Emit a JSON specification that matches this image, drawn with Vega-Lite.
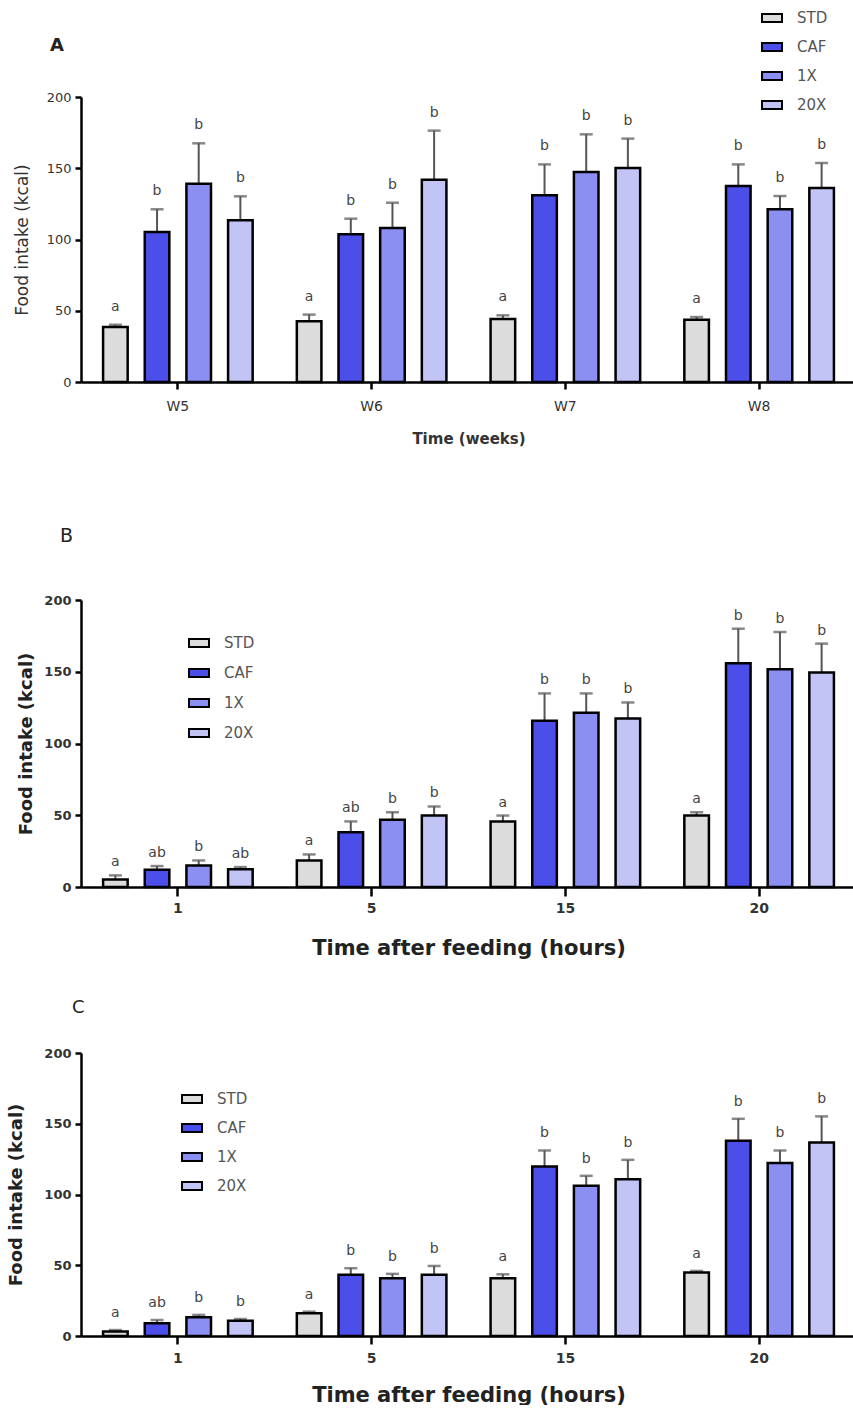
{
  "$schema": "https://vega.github.io/schema/vega-lite/v6.json",
  "background": "white",
  "padding": {"left": 6, "top": 7, "right": 0, "bottom": 0},
  "config": {
    "view": {"stroke": null},
    "font": "DejaVu Sans",
    "axis": {"grid": false, "domainColor": "#000", "tickColor": "#000", "labelFont": "DejaVu Sans", "titleFont": "DejaVu Sans"},
    "legend": {"labelFont": "DejaVu Sans"},
    "title": {"font": "DejaVu Sans"}
  },
  "datasets": {
    "A": [
      {"time": "W5", "diet": "STD", "mean": 38.6, "err": 40.2, "sig": "a"},
      {"time": "W5", "diet": "CAF", "mean": 105.3, "err": 121.2, "sig": "b"},
      {"time": "W5", "diet": "1X", "mean": 139.2, "err": 167.5, "sig": "b"},
      {"time": "W5", "diet": "20X", "mean": 113.5, "err": 130.3, "sig": "b"},
      {"time": "W6", "diet": "STD", "mean": 42.6, "err": 47.3, "sig": "a"},
      {"time": "W6", "diet": "CAF", "mean": 103.6, "err": 114.6, "sig": "b"},
      {"time": "W6", "diet": "1X", "mean": 108.1, "err": 125.8, "sig": "b"},
      {"time": "W6", "diet": "20X", "mean": 142.0, "err": 176.4, "sig": "b"},
      {"time": "W7", "diet": "STD", "mean": 44.2, "err": 46.8, "sig": "a"},
      {"time": "W7", "diet": "CAF", "mean": 131.0, "err": 152.7, "sig": "b"},
      {"time": "W7", "diet": "1X", "mean": 147.4, "err": 173.8, "sig": "b"},
      {"time": "W7", "diet": "20X", "mean": 150.2, "err": 170.8, "sig": "b"},
      {"time": "W8", "diet": "STD", "mean": 43.7, "err": 45.6, "sig": "a"},
      {"time": "W8", "diet": "CAF", "mean": 137.5, "err": 152.7, "sig": "b"},
      {"time": "W8", "diet": "1X", "mean": 121.2, "err": 130.5, "sig": "b"},
      {"time": "W8", "diet": "20X", "mean": 136.1, "err": 153.7, "sig": "b"}
    ],
    "B": [
      {"time": "1", "diet": "STD", "mean": 5.3, "err": 8.1, "sig": "a"},
      {"time": "1", "diet": "CAF", "mean": 12.0, "err": 14.6, "sig": "ab"},
      {"time": "1", "diet": "1X", "mean": 15.0, "err": 18.5, "sig": "b"},
      {"time": "1", "diet": "20X", "mean": 12.3, "err": 13.9, "sig": "ab"},
      {"time": "5", "diet": "STD", "mean": 18.5, "err": 22.7, "sig": "a"},
      {"time": "5", "diet": "CAF", "mean": 38.2, "err": 45.7, "sig": "ab"},
      {"time": "5", "diet": "1X", "mean": 46.8, "err": 52.1, "sig": "b"},
      {"time": "5", "diet": "20X", "mean": 49.8, "err": 56.1, "sig": "b"},
      {"time": "15", "diet": "STD", "mean": 45.7, "err": 49.8, "sig": "a"},
      {"time": "15", "diet": "CAF", "mean": 115.9, "err": 134.9, "sig": "b"},
      {"time": "15", "diet": "1X", "mean": 121.4, "err": 134.9, "sig": "b"},
      {"time": "15", "diet": "20X", "mean": 117.5, "err": 128.6, "sig": "b"},
      {"time": "20", "diet": "STD", "mean": 49.8, "err": 52.1, "sig": "a"},
      {"time": "20", "diet": "CAF", "mean": 156.0, "err": 180.0, "sig": "b"},
      {"time": "20", "diet": "1X", "mean": 151.8, "err": 177.7, "sig": "b"},
      {"time": "20", "diet": "20X", "mean": 149.5, "err": 169.6, "sig": "b"}
    ],
    "C": [
      {"time": "1", "diet": "STD", "mean": 3.1, "err": 4.2, "sig": "a"},
      {"time": "1", "diet": "CAF", "mean": 9.0, "err": 11.3, "sig": "ab"},
      {"time": "1", "diet": "1X", "mean": 13.2, "err": 14.9, "sig": "b"},
      {"time": "1", "diet": "20X", "mean": 10.8, "err": 12.0, "sig": "b"},
      {"time": "5", "diet": "STD", "mean": 16.0, "err": 17.2, "sig": "a"},
      {"time": "5", "diet": "CAF", "mean": 43.2, "err": 47.9, "sig": "b"},
      {"time": "5", "diet": "1X", "mean": 40.8, "err": 43.9, "sig": "b"},
      {"time": "5", "diet": "20X", "mean": 43.2, "err": 49.5, "sig": "b"},
      {"time": "15", "diet": "STD", "mean": 40.8, "err": 43.6, "sig": "a"},
      {"time": "15", "diet": "CAF", "mean": 119.8, "err": 131.1, "sig": "b"},
      {"time": "15", "diet": "1X", "mean": 106.1, "err": 113.2, "sig": "b"},
      {"time": "15", "diet": "20X", "mean": 110.8, "err": 124.5, "sig": "b"},
      {"time": "20", "diet": "STD", "mean": 44.8, "err": 46.0, "sig": "a"},
      {"time": "20", "diet": "CAF", "mean": 138.0, "err": 153.5, "sig": "b"},
      {"time": "20", "diet": "1X", "mean": 122.2, "err": 131.1, "sig": "b"},
      {"time": "20", "diet": "20X", "mean": 136.8, "err": 155.2, "sig": "b"}
    ]
  },
  "resolve": {"scale": {"x": "independent", "xOffset": "independent", "color": "independent", "y": "independent"}, "legend": {"color": "independent"}, "axis": {"x": "independent", "y": "independent"}},
  "spacing": 218,
  "bounds": "flush",
  "vconcat": [
    {
      "width": 775,
      "height": 285,
      "title": {"text": "A", "anchor": "start", "frame": "group", "baseline": "bottom", "dx": -31, "offset": -66, "fontSize": 18, "fontWeight": "bold", "color": "#222"},
      "data": {"name": "A"},
      "encoding": {
        "x": {"field": "time", "type": "nominal", "sort": ["W5", "W6", "W7", "W8"], "scale": {"paddingInner": 0, "paddingOuter": -0.03},
          "axis": {"title": "Time (weeks)", "labelAngle": 0, "labelFontSize": 14, "labelColor": "#333", "labelPadding": 10, "tickSize": 7, "tickWidth": 2.5, "domainWidth": 2.5, "titleFontSize": 15, "titleFontWeight": "bold", "titleColor": "#333", "titleY": 49}},
        "xOffset": {"field": "diet", "type": "nominal", "sort": ["STD", "CAF", "1X", "20X"], "scale": {"paddingInner": 0.41, "paddingOuter": 0.53}}
      },
      "layer": [
        {"mark": {"type": "rule", "color": "#555", "strokeWidth": 2},
          "encoding": {"y": {"field": "mean", "type": "quantitative", "title": "Food intake (kcal)", "scale": {"domain": [0, 200], "nice": false}}, "y2": {"field": "err"}}},
        {"mark": {"type": "tick", "orient": "horizontal", "color": "#555", "thickness": 2.5, "size": 13},
          "encoding": {"y": {"field": "err", "type": "quantitative", "title": "Food intake (kcal)", "scale": {"domain": [0, 200], "nice": false}}}},
        {"mark": {"type": "bar", "stroke": "#000", "strokeWidth": 2.5},
          "encoding": {
            "y": {"field": "mean", "type": "quantitative", "title": "Food intake (kcal)", "scale": {"domain": [0, 200], "nice": false},
              "axis": {"values": [0, 50, 100, 150, 200], "tickSize": 6, "tickWidth": 2.5, "domainWidth": 2.5, "labelFontSize": 13, "labelColor": "#333", "labelPadding": 4, "titleFontSize": 17, "titleFontWeight": "normal", "titleColor": "#333", "titleX": -50}},
            "color": {"field": "diet", "type": "nominal", "sort": ["STD", "CAF", "1X", "20X"],
              "scale": {"domain": ["STD", "CAF", "1X", "20X"], "range": ["#dcdcdc", "#4b4ee8", "#8b8ff2", "#c2c4f6"]},
              "legend": {"orient": "none", "legendX": 680, "legendY": -90, "title": null, "symbolType": "M-1,-0.4H1V0.4H-1Z", "symbolSize": 400, "symbolStrokeColor": "#000", "symbolStrokeWidth": 2, "symbolOpacity": 1, "labelFontSize": 15, "labelColor": "#555", "labelOffset": 14, "rowPadding": 10}}
          }},
        {"mark": {"type": "text", "dy": -14, "fontSize": 14, "color": "#444", "baseline": "alphabetic"},
          "encoding": {"y": {"field": "err", "type": "quantitative", "title": "Food intake (kcal)", "scale": {"domain": [0, 200], "nice": false}}, "text": {"field": "sig"}}}
      ]
    },
    {
      "resolve": {"scale": {"x": "independent", "xOffset": "independent", "color": "independent", "y": "independent"}, "legend": {"color": "independent"}, "axis": {"x": "independent", "y": "independent"}},
      "spacing": 166,
      "bounds": "flush",
      "vconcat": [
        {
          "width": 775,
          "height": 287,
          "title": {"text": "B", "anchor": "start", "frame": "group", "baseline": "bottom", "dx": -21, "offset": 29, "fontSize": 19, "fontWeight": "normal", "color": "#222"},
          "data": {"name": "B"},
          "encoding": {
            "x": {"field": "time", "type": "nominal", "sort": ["1", "5", "15", "20"], "scale": {"paddingInner": 0, "paddingOuter": -0.03},
              "axis": {"title": "Time after feeding (hours)", "labelAngle": 0, "labelFontSize": 14, "labelFontWeight": "bold", "labelColor": "#333", "labelPadding": 5, "tickSize": 9, "tickWidth": 2.5, "domainWidth": 2.5, "titleFontSize": 21, "titleFontWeight": "bold", "titleColor": "#222", "titleY": 50}},
            "xOffset": {"field": "diet", "type": "nominal", "sort": ["STD", "CAF", "1X", "20X"], "scale": {"paddingInner": 0.41, "paddingOuter": 0.53}}
          },
          "layer": [
            {"mark": {"type": "rule", "color": "#555", "strokeWidth": 2},
              "encoding": {"y": {"field": "mean", "type": "quantitative", "title": "Food intake (kcal)", "scale": {"domain": [0, 200], "nice": false}}, "y2": {"field": "err"}}},
            {"mark": {"type": "tick", "orient": "horizontal", "color": "#555", "thickness": 2.5, "size": 13},
              "encoding": {"y": {"field": "err", "type": "quantitative", "title": "Food intake (kcal)", "scale": {"domain": [0, 200], "nice": false}}}},
            {"mark": {"type": "bar", "stroke": "#000", "strokeWidth": 2.5},
              "encoding": {
                "y": {"field": "mean", "type": "quantitative", "title": "Food intake (kcal)", "scale": {"domain": [0, 200], "nice": false},
                  "axis": {"values": [0, 50, 100, 150, 200], "tickSize": 6, "tickWidth": 2.5, "domainWidth": 2.5, "labelFontSize": 13, "labelFontWeight": "bold", "labelColor": "#333", "labelPadding": 4, "titleFontSize": 18, "titleFontWeight": "bold", "titleColor": "#222", "titleX": -46}},
                "color": {"field": "diet", "type": "nominal", "sort": ["STD", "CAF", "1X", "20X"],
                  "scale": {"domain": ["STD", "CAF", "1X", "20X"], "range": ["#dcdcdc", "#4b4ee8", "#8b8ff2", "#c2c4f6"]},
                  "legend": {"orient": "none", "legendX": 107, "legendY": 32, "title": null, "symbolType": "M-1,-0.4H1V0.4H-1Z", "symbolSize": 400, "symbolStrokeColor": "#000", "symbolStrokeWidth": 2, "symbolOpacity": 1, "labelFontSize": 15, "labelColor": "#555", "labelOffset": 14, "rowPadding": 11}}
              }},
            {"mark": {"type": "text", "dy": -9, "fontSize": 14, "color": "#444", "baseline": "alphabetic"},
              "encoding": {"y": {"field": "err", "type": "quantitative", "title": "Food intake (kcal)", "scale": {"domain": [0, 200], "nice": false}}, "text": {"field": "sig"}}}
          ]
        },
        {
          "width": 775,
          "height": 283,
          "title": {"text": "C", "anchor": "start", "frame": "group", "baseline": "bottom", "dx": -9, "offset": 12, "fontSize": 18, "fontWeight": "normal", "color": "#222"},
          "data": {"name": "C"},
          "encoding": {
            "x": {"field": "time", "type": "nominal", "sort": ["1", "5", "15", "20"], "scale": {"paddingInner": 0, "paddingOuter": -0.03},
              "axis": {"title": "Time after feeding (hours)", "labelAngle": 0, "labelFontSize": 14, "labelFontWeight": "bold", "labelColor": "#333", "labelPadding": 7, "tickSize": 8, "tickWidth": 2.5, "domainWidth": 2.5, "titleFontSize": 21, "titleFontWeight": "bold", "titleColor": "#222", "titleY": 48}},
            "xOffset": {"field": "diet", "type": "nominal", "sort": ["STD", "CAF", "1X", "20X"], "scale": {"paddingInner": 0.41, "paddingOuter": 0.53}}
          },
          "layer": [
            {"mark": {"type": "rule", "color": "#555", "strokeWidth": 2},
              "encoding": {"y": {"field": "mean", "type": "quantitative", "title": "Food intake (kcal)", "scale": {"domain": [0, 200], "nice": false}}, "y2": {"field": "err"}}},
            {"mark": {"type": "tick", "orient": "horizontal", "color": "#555", "thickness": 2.5, "size": 13},
              "encoding": {"y": {"field": "err", "type": "quantitative", "title": "Food intake (kcal)", "scale": {"domain": [0, 200], "nice": false}}}},
            {"mark": {"type": "bar", "stroke": "#000", "strokeWidth": 2.5},
              "encoding": {
                "y": {"field": "mean", "type": "quantitative", "title": "Food intake (kcal)", "scale": {"domain": [0, 200], "nice": false},
                  "axis": {"values": [0, 50, 100, 150, 200], "tickSize": 6, "tickWidth": 2.5, "domainWidth": 2.5, "labelFontSize": 13, "labelFontWeight": "bold", "labelColor": "#333", "labelPadding": 4, "titleFontSize": 18, "titleFontWeight": "bold", "titleColor": "#222", "titleX": -56}},
                "color": {"field": "diet", "type": "nominal", "sort": ["STD", "CAF", "1X", "20X"],
                  "scale": {"domain": ["STD", "CAF", "1X", "20X"], "range": ["#dcdcdc", "#4b4ee8", "#8b8ff2", "#c2c4f6"]},
                  "legend": {"orient": "none", "legendX": 100, "legendY": 35, "title": null, "symbolType": "M-1,-0.4H1V0.4H-1Z", "symbolSize": 400, "symbolStrokeColor": "#000", "symbolStrokeWidth": 2, "symbolOpacity": 1, "labelFontSize": 15, "labelColor": "#555", "labelOffset": 14, "rowPadding": 10}}
              }},
            {"mark": {"type": "text", "dy": -13, "fontSize": 14, "color": "#444", "baseline": "alphabetic"},
              "encoding": {"y": {"field": "err", "type": "quantitative", "title": "Food intake (kcal)", "scale": {"domain": [0, 200], "nice": false}}, "text": {"field": "sig"}}}
          ]
        }
      ]
    }
  ]
}
